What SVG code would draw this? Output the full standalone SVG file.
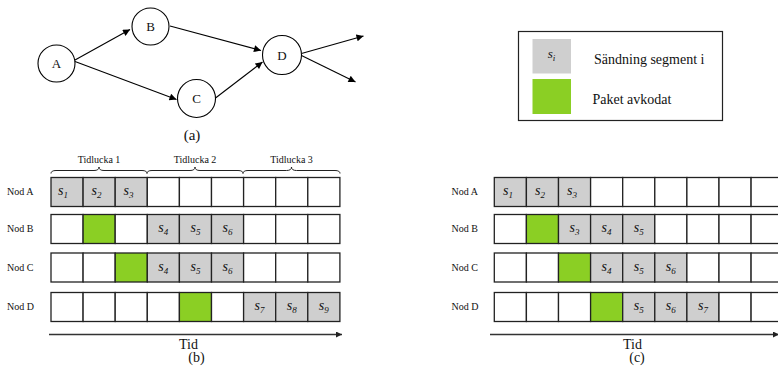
<svg xmlns="http://www.w3.org/2000/svg" width="778" height="369" viewBox="0 0 778 369" font-family="'Liberation Serif', 'Times New Roman', serif">
<defs>
<marker id="ah" viewBox="0 0 10 10" refX="10" refY="5" markerWidth="8" markerHeight="7" orient="auto" markerUnits="userSpaceOnUse">
<path d="M0,0 L10,5 L0,10 z" fill="#000"/>
</marker>
<marker id="ah2" viewBox="0 0 10 10" refX="10" refY="5" markerWidth="6" markerHeight="6" orient="auto" markerUnits="userSpaceOnUse">
<path d="M0,0 L10,5 L0,10 z" fill="#222"/>
</marker>
</defs>
<style>
text{fill:#111}
.node circle{fill:#fff;stroke:#000;stroke-width:1.1}
.nl{font-size:13px;text-anchor:middle}
.edge{stroke:#000;stroke-width:1.1;fill:none;marker-end:url(#ah)}
.c{stroke:#222;stroke-width:1.3;fill:#fff}
.g{fill:#cfcfcf}
.gr{fill:#8bcf24}
.s{font-size:14px;font-style:italic;text-anchor:middle}
.sub{font-size:9px}
.lab{font-size:10px}
.cap{font-size:14px;text-anchor:middle}
.leg{font-size:14px}
.brace{fill:none;stroke:#222;stroke-width:1}
.tl{font-size:10px;text-anchor:middle}
.axis{stroke:#333;stroke-width:1.3;fill:none;marker-end:url(#ah2)}
</style>
<rect width="778" height="369" fill="#fff"/>

<!-- (a) graph -->
<g id="connectors">
<line class="edge" x1="75" y1="60" x2="130" y2="29.5"/>
<line class="edge" x1="75" y1="61.5" x2="176.5" y2="99.5"/>
<line class="edge" x1="170" y1="26" x2="261" y2="50.5"/>
<line class="edge" x1="215.5" y1="98" x2="262.5" y2="62"/>
<line class="edge" x1="301.5" y1="53.5" x2="363.5" y2="36"/>
<line class="edge" x1="301.5" y1="55.5" x2="355.5" y2="82"/>
</g>
<g id="nodeA" class="node"><circle cx="56.5" cy="63.5" r="18.5"/><text class="nl" x="56.5" y="68">A</text></g>
<g id="nodeB" class="node"><circle cx="150.5" cy="26.5" r="18.5"/><text class="nl" x="150.5" y="31">B</text></g>
<g id="nodeC" class="node"><circle cx="196.5" cy="98.5" r="19"/><text class="nl" x="196.5" y="103">C</text></g>
<g id="nodeD" class="node"><circle cx="282" cy="55" r="19.5"/><text class="nl" x="282" y="59.5">D</text></g>
<text class="cap" x="192" y="140" style="font-size:15px">(a)</text>

<!-- legend -->
<g id="legend">
<rect x="518.5" y="31.5" width="204" height="89" fill="#fff" stroke="#222" stroke-width="1.2"/>
<rect x="532.5" y="39" width="38.5" height="34.5" class="g"/>
<text class="s" x="551.5" y="58" style="font-size:13px">s<tspan class="sub" dy="2.5">i</tspan></text>
<text class="leg" x="594" y="63.5">Sändning segment i</text>
<rect x="532.5" y="79" width="38.5" height="35" class="gr"/>
<text class="leg" x="592.5" y="104">Paket avkodat</text>
</g>

<!-- (b) -->
<g id="braces">
<path class="brace" d="M51,173.5 Q51,170.5 56,170.5 L94,170.5 Q99,170.5 99,167 Q99,170.5 104,170.5 L142,170.5 Q147,170.5 147,173.5"/>
<path class="brace" d="M147,173.5 Q147,170.5 152,170.5 L190,170.5 Q195,170.5 195,167 Q195,170.5 200,170.5 L238,170.5 Q243,170.5 243,173.5"/>
<path class="brace" d="M243,173.5 Q243,170.5 248,170.5 L286.5,170.5 Q291.5,170.5 291.5,167 Q291.5,170.5 296.5,170.5 L335,170.5 Q340,170.5 340,173.5"/>
<text class="tl" x="99" y="163">Tidlucka 1</text>
<text class="tl" x="195" y="163">Tidlucka 2</text>
<text class="tl" x="291.5" y="163">Tidlucka 3</text>
</g>

<g id="b-rowA">
<text class="lab" x="7" y="194.5">Nod A</text>
<rect class="c g" x="51" y="177.5" width="32.1" height="29"/>
<rect class="c g" x="83.1" y="177.5" width="32.1" height="29"/>
<rect class="c g" x="115.2" y="177.5" width="32.1" height="29"/>
<rect class="c" x="147.3" y="177.5" width="32.1" height="29"/>
<rect class="c" x="179.4" y="177.5" width="32.1" height="29"/>
<rect class="c" x="211.5" y="177.5" width="32.1" height="29"/>
<rect class="c" x="243.6" y="177.5" width="32.1" height="29"/>
<rect class="c" x="275.7" y="177.5" width="32.1" height="29"/>
<rect class="c" x="307.8" y="177.5" width="32.1" height="29"/>
<text class="s" x="63" y="195">s<tspan class="sub" dy="3">1</tspan></text>
<text class="s" x="96.5" y="195">s<tspan class="sub" dy="3">2</tspan></text>
<text class="s" x="128.5" y="195">s<tspan class="sub" dy="3">3</tspan></text>
</g>
<g id="b-rowB">
<text class="lab" x="7" y="232">Nod B</text>
<rect class="c" x="51" y="214.5" width="32.1" height="29"/>
<rect class="c gr" x="83.1" y="214.5" width="32.1" height="29"/>
<rect class="c" x="115.2" y="214.5" width="32.1" height="29"/>
<rect class="c g" x="147.3" y="214.5" width="32.1" height="29"/>
<rect class="c g" x="179.4" y="214.5" width="32.1" height="29"/>
<rect class="c g" x="211.5" y="214.5" width="32.1" height="29"/>
<rect class="c" x="243.6" y="214.5" width="32.1" height="29"/>
<rect class="c" x="275.7" y="214.5" width="32.1" height="29"/>
<rect class="c" x="307.8" y="214.5" width="32.1" height="29"/>
<text class="s" x="163.3" y="232">s<tspan class="sub" dy="3">4</tspan></text>
<text class="s" x="195.4" y="232">s<tspan class="sub" dy="3">5</tspan></text>
<text class="s" x="227.5" y="232">s<tspan class="sub" dy="3">6</tspan></text>
</g>
<g id="b-rowC">
<text class="lab" x="7" y="271">Nod C</text>
<rect class="c" x="51" y="253" width="32.1" height="29"/>
<rect class="c" x="83.1" y="253" width="32.1" height="29"/>
<rect class="c gr" x="115.2" y="253" width="32.1" height="29"/>
<rect class="c g" x="147.3" y="253" width="32.1" height="29"/>
<rect class="c g" x="179.4" y="253" width="32.1" height="29"/>
<rect class="c g" x="211.5" y="253" width="32.1" height="29"/>
<rect class="c" x="243.6" y="253" width="32.1" height="29"/>
<rect class="c" x="275.7" y="253" width="32.1" height="29"/>
<rect class="c" x="307.8" y="253" width="32.1" height="29"/>
<text class="s" x="163.3" y="270.5">s<tspan class="sub" dy="3">4</tspan></text>
<text class="s" x="195.4" y="270.5">s<tspan class="sub" dy="3">5</tspan></text>
<text class="s" x="227.5" y="270.5">s<tspan class="sub" dy="3">6</tspan></text>
</g>
<g id="b-rowD">
<text class="lab" x="7" y="310">Nod D</text>
<rect class="c" x="51" y="292.5" width="32.1" height="29"/>
<rect class="c" x="83.1" y="292.5" width="32.1" height="29"/>
<rect class="c" x="115.2" y="292.5" width="32.1" height="29"/>
<rect class="c" x="147.3" y="292.5" width="32.1" height="29"/>
<rect class="c gr" x="179.4" y="292.5" width="32.1" height="29"/>
<rect class="c" x="211.5" y="292.5" width="32.1" height="29"/>
<rect class="c g" x="243.6" y="292.5" width="32.1" height="29"/>
<rect class="c g" x="275.7" y="292.5" width="32.1" height="29"/>
<rect class="c g" x="307.8" y="292.5" width="32.1" height="29"/>
<text class="s" x="259.6" y="309.5">s<tspan class="sub" dy="3">7</tspan></text>
<text class="s" x="291.7" y="309.5">s<tspan class="sub" dy="3">8</tspan></text>
<text class="s" x="323.8" y="309.5">s<tspan class="sub" dy="3">9</tspan></text>
</g>
<g id="b-axis">
<line class="axis" x1="49" y1="334.5" x2="342" y2="334.5"/>
<text class="cap" x="188.5" y="348.5">Tid</text>
<text class="cap" x="196.5" y="362">(b)</text>
</g>

<!-- (c) -->
<g id="c-rowA">
<text class="lab" x="451.5" y="194.5">Nod A</text>
<rect class="c g" x="494.3" y="177.5" width="32.1" height="29"/>
<rect class="c g" x="526.4" y="177.5" width="32.1" height="29"/>
<rect class="c g" x="558.5" y="177.5" width="32.1" height="29"/>
<rect class="c" x="590.6" y="177.5" width="32.1" height="29"/>
<rect class="c" x="622.7" y="177.5" width="32.1" height="29"/>
<rect class="c" x="654.8" y="177.5" width="32.1" height="29"/>
<rect class="c" x="686.9" y="177.5" width="32.1" height="29"/>
<rect class="c" x="719" y="177.5" width="32.1" height="29"/>
<rect class="c" x="751.1" y="177.5" width="32.1" height="29"/>
<text class="s" x="508" y="195">s<tspan class="sub" dy="3">1</tspan></text>
<text class="s" x="540" y="195">s<tspan class="sub" dy="3">2</tspan></text>
<text class="s" x="572" y="195">s<tspan class="sub" dy="3">3</tspan></text>
</g>
<g id="c-rowB">
<text class="lab" x="451.5" y="232">Nod B</text>
<rect class="c" x="494.3" y="214.5" width="32.1" height="29"/>
<rect class="c gr" x="526.4" y="214.5" width="32.1" height="29"/>
<rect class="c g" x="558.5" y="214.5" width="32.1" height="29"/>
<rect class="c g" x="590.6" y="214.5" width="32.1" height="29"/>
<rect class="c g" x="622.7" y="214.5" width="32.1" height="29"/>
<rect class="c" x="654.8" y="214.5" width="32.1" height="29"/>
<rect class="c" x="686.9" y="214.5" width="32.1" height="29"/>
<rect class="c" x="719" y="214.5" width="32.1" height="29"/>
<rect class="c" x="751.1" y="214.5" width="32.1" height="29"/>
<text class="s" x="574.5" y="232">s<tspan class="sub" dy="3">3</tspan></text>
<text class="s" x="606.6" y="232">s<tspan class="sub" dy="3">4</tspan></text>
<text class="s" x="638.7" y="232">s<tspan class="sub" dy="3">5</tspan></text>
</g>
<g id="c-rowC">
<text class="lab" x="451.5" y="271">Nod C</text>
<rect class="c" x="494.3" y="253" width="32.1" height="29"/>
<rect class="c" x="526.4" y="253" width="32.1" height="29"/>
<rect class="c gr" x="558.5" y="253" width="32.1" height="29"/>
<rect class="c g" x="590.6" y="253" width="32.1" height="29"/>
<rect class="c g" x="622.7" y="253" width="32.1" height="29"/>
<rect class="c g" x="654.8" y="253" width="32.1" height="29"/>
<rect class="c" x="686.9" y="253" width="32.1" height="29"/>
<rect class="c" x="719" y="253" width="32.1" height="29"/>
<rect class="c" x="751.1" y="253" width="32.1" height="29"/>
<text class="s" x="606.6" y="270.5">s<tspan class="sub" dy="3">4</tspan></text>
<text class="s" x="638.7" y="270.5">s<tspan class="sub" dy="3">5</tspan></text>
<text class="s" x="670.8" y="270.5">s<tspan class="sub" dy="3">6</tspan></text>
</g>
<g id="c-rowD">
<text class="lab" x="451.5" y="310">Nod D</text>
<rect class="c" x="494.3" y="292.5" width="32.1" height="29"/>
<rect class="c" x="526.4" y="292.5" width="32.1" height="29"/>
<rect class="c" x="558.5" y="292.5" width="32.1" height="29"/>
<rect class="c gr" x="590.6" y="292.5" width="32.1" height="29"/>
<rect class="c g" x="622.7" y="292.5" width="32.1" height="29"/>
<rect class="c g" x="654.8" y="292.5" width="32.1" height="29"/>
<rect class="c g" x="686.9" y="292.5" width="32.1" height="29"/>
<rect class="c" x="719" y="292.5" width="32.1" height="29"/>
<rect class="c" x="751.1" y="292.5" width="32.1" height="29"/>
<text class="s" x="638.7" y="309.5">s<tspan class="sub" dy="3">5</tspan></text>
<text class="s" x="670.8" y="309.5">s<tspan class="sub" dy="3">6</tspan></text>
<text class="s" x="702.9" y="309.5">s<tspan class="sub" dy="3">7</tspan></text>
</g>
<g id="c-axis">
<line class="axis" x1="490" y1="334.5" x2="779" y2="334.5"/>
<text class="cap" x="632.5" y="348.5">Tid</text>
<text class="cap" x="637" y="362">(c)</text>
</g>
</svg>
